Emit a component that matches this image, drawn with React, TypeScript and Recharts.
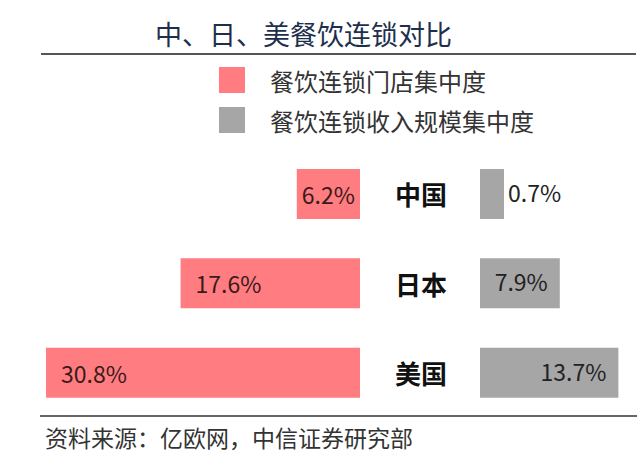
import { BarChart, Bar, XAxis, YAxis, LabelList } from 'recharts';

// Chart data
const countries = ['中国', '日本', '美国'];
const storeShare = [6.2, 17.6, 30.8];
const revenueShare = [0.7, 7.9, 13.7];
const seriesNames = ['餐饮连锁门店集中度', '餐饮连锁收入规模集中度'];
const seriesColors = ['#FF7C80', '#A6A6A6'];
const titleText = '中、日、美餐饮连锁对比';
const sourceText = '资料来源：亿欧网，中信证券研究部';

const FONT = "'Noto Sans CJK SC', 'Noto Sans', sans-serif";

const data = countries.map((name, i) => ({
  name,
  store: storeShare[i],
  revenue: revenueShare[i]
}));

// pink labels: centred in short bars, left aligned in long ones
const StoreLabel = (props: any) => {
  const vb = props.viewBox ?? props;
  const { x, y, width, height } = vb;
  const left = Math.min(x, x + width);
  const w = Math.abs(width);
  const narrow = w < 100;
  return (
    <text
      x={narrow ? left + w / 2 : left + 15}
      y={y + height / 2}
      textAnchor={narrow ? 'middle' : 'start'}
      dominantBaseline="central"
      fontSize={23}
      fontFamily={FONT}
      fill="#3a1a1a"
    >
      {props.value}%
    </text>
  );
};

// grey labels: outside short bars, right aligned inside long ones
const RevenueLabel = (props: any) => {
  const vb = props.viewBox ?? props;
  const { x, y, width, height } = vb;
  const inside = width > 50;
  return (
    <text
      x={inside ? x + width - 12 : x + width + 4}
      y={y + height / 2 - 2}
      textAnchor={inside ? 'end' : 'start'}
      dominantBaseline="central"
      fontSize={23}
      fontFamily={FONT}
      fill="#222"
    >
      {props.value}%
    </text>
  );
};

const CountryTick = (props: any) => {
  const { x, y, payload } = props;
  return (
    <text
      x={x - 59}
      y={y}
      textAnchor="middle"
      dominantBaseline="central"
      fontSize={26}
      fontWeight="bold"
      fontFamily={FONT}
      fill="#111"
    >
      {payload.value}
    </text>
  );
};

export default function App() {
  return (
    <div
      style={{
        position: 'absolute',
        left: 0,
        top: 0,
        width: 640,
        height: 460,
        background: '#fff',
        fontFamily: FONT,
        overflow: 'hidden'
      }}
    >
      <div
        style={{
          position: 'absolute',
          left: 155,
          top: 17,
          fontSize: 27,
          lineHeight: '34px',
          color: '#1e2f4d',
          whiteSpace: 'nowrap'
        }}
      >
        {titleText}
      </div>
      <div style={{ position: 'absolute', left: 41, top: 53, width: 595, height: 1.5, background: '#555' }} />

      {seriesNames.map((name, i) => (
        <div key={name} style={{ position: 'absolute', left: 219, top: 67 + i * 40, height: 26, display: 'flex', alignItems: 'center' }}>
          <div style={{ width: 26, height: 26, background: seriesColors[i] }} />
          <span style={{ marginLeft: 25, fontSize: 24, color: '#333', whiteSpace: 'nowrap' }}>{name}</span>
        </div>
      ))}

      <div style={{ position: 'absolute', left: 0, top: 149 }}>
        <BarChart width={360} height={268} data={data} layout="vertical" margin={{ top: 0, right: 0, left: 44, bottom: 0 }}>
          <XAxis type="number" hide reversed domain={[0, 31.0]} />
          <YAxis type="category" dataKey="name" hide />
          <Bar dataKey="store" fill={seriesColors[0]} barSize={50} isAnimationActive={false}>
            <LabelList dataKey="store" content={StoreLabel} />
          </Bar>
        </BarChart>
      </div>

      <div style={{ position: 'absolute', left: 360, top: 149 }}>
        <BarChart width={280} height={268} data={data} layout="vertical" margin={{ top: 0, right: 10, left: 0, bottom: 0 }}>
          <XAxis type="number" hide domain={[0, 14.85]} />
          <YAxis
            type="category"
            dataKey="name"
            width={120}
            axisLine={false}
            tickLine={false}
            tickSize={0}
            tickMargin={0}
            tick={CountryTick}
          />
          <Bar dataKey="revenue" fill={seriesColors[1]} barSize={50} minPointSize={24} isAnimationActive={false}>
            <LabelList dataKey="revenue" content={RevenueLabel} />
          </Bar>
        </BarChart>
      </div>

      <div style={{ position: 'absolute', left: 40, top: 415, width: 597, height: 1.5, background: '#666' }} />
      <div
        style={{
          position: 'absolute',
          left: 45,
          top: 423,
          fontSize: 23,
          lineHeight: '28px',
          color: '#333',
          whiteSpace: 'nowrap'
        }}
      >
        {sourceText}
      </div>
    </div>
  );
}
